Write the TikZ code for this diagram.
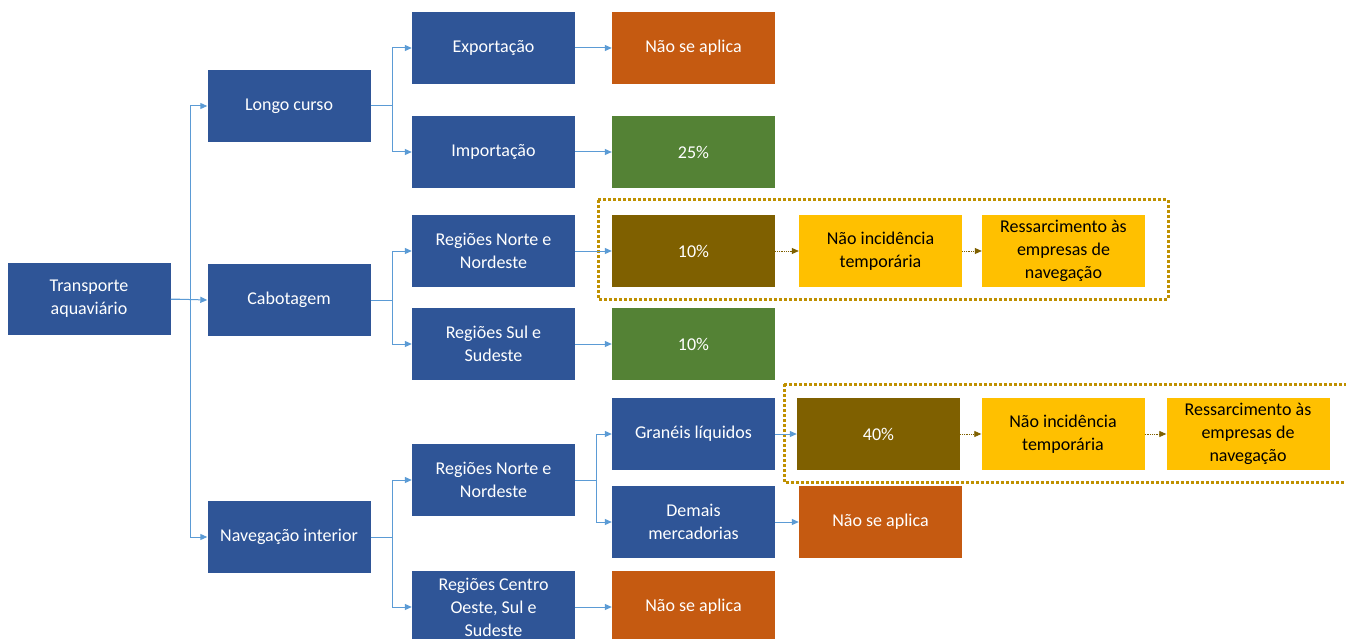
\documentclass[tikz,border=0pt]{standalone}
\usepackage{fontspec}
\setmainfont{Carlito}
\usetikzlibrary{arrows.meta}
\definecolor{azul}{HTML}{2F5597}
\definecolor{laranja}{HTML}{C55A11}
\definecolor{verde}{HTML}{548235}
\definecolor{marrom}{HTML}{7F6000}
\definecolor{amarelo}{HTML}{FFC000}
\definecolor{ouro}{HTML}{BF9000}
\definecolor{linha}{HTML}{5B9BD5}
\tikzset{
  caixa/.style={rectangle,minimum width=163pt,minimum height=72pt,inner sep=0pt,
    align=center,text=white,font=\fontsize{18}{23}\selectfont},
  azulbox/.style={caixa,fill=azul},
  laranjabox/.style={caixa,fill=laranja},
  verdebox/.style={caixa,fill=verde},
  marrombox/.style={caixa,fill=marrom},
  amarelobox/.style={caixa,fill=amarelo,text=black},
  seta/.style={draw=linha,line width=1pt,-{Triangle[length=7pt,width=6pt]}},
  setapont/.style={draw=marrom,line width=0.8pt,densely dotted,-{Triangle[length=7pt,width=6pt]}},
  moldura/.style={draw=ouro,line width=3pt,dotted}
}
\begin{document}
\begin{tikzpicture}[x=1pt,y=-1pt]
        \useasboundingbox[fill=white] (0,0) rectangle (1346,639);
        % nivel 1 e 2
        \node[azulbox] (root) at (89,299) {Transporte\\aquaviário};
        \node[azulbox] (longo) at (289,106) {Longo curso};
        \node[azulbox] (cab) at (289,300) {Cabotagem};
        \node[azulbox] (nav) at (289,537) {Navegação interior};
        % nivel 3
        \node[azulbox] (expo) at (493.5,48) {Exportação};
        \node[azulbox] (impo) at (493.5,152) {Importação};
        \node[azulbox] (rnnA) at (493.5,251) {Regiões Norte e\\Nordeste};
        \node[azulbox] (rss) at (493.5,344) {Regiões Sul e\\Sudeste};
        \node[azulbox] (rnnB) at (493.5,480) {Regiões Norte e\\Nordeste};
        \node[azulbox] (rcos) at (493.5,607) {Regiões Centro\\Oeste, Sul e\\Sudeste};
        % nivel 4
        \node[laranjabox] (nsaA) at (693.5,48) {Não se aplica};
        \node[verdebox] (p25) at (693.5,152) {25\%};
        \node[marrombox] (p10A) at (693.5,251) {10\%};
        \node[verdebox] (p10B) at (693.5,344) {10\%};
        \node[azulbox] (gran) at (693.5,434) {Granéis líquidos};
        \node[azulbox] (demais) at (693.5,522) {Demais\\mercadorias};
        \node[laranjabox] (nsaC) at (693.5,607) {Não se aplica};
        % nivel 5 e 6
        \node[amarelobox] (nitA) at (880.5,251) {Não incidência\\temporária};
        \node[amarelobox] (resA) at (1063.5,251) {Ressarcimento às\\empresas de\\navegação};
        \node[marrombox] (p40) at (878.5,434) {40\%};
        \node[amarelobox] (nitB) at (1063,434) {Não incidência\\temporária};
        \node[amarelobox] (resB) at (1248,434) {Ressarcimento às\\empresas de\\navegação};
        \node[laranjabox] (nsaB) at (880.5,522) {Não se aplica};
        % molduras
        \draw[moldura] (598,200) rectangle (1168,299);
        \draw[moldura] (784,384) -- (1352,384) (784,384) -- (784,482) -- (1352,482);
        % conectores
        \draw[seta] (root.east) -- ++(20,0) |- (longo.west);
        \draw[seta] (root.east) -- (cab.west);
        \draw[seta] (root.east) -- ++(20,0) |- (nav.west);
        \draw[seta] (longo.east) -- ++(22,0) |- (expo.west);
        \draw[seta] (longo.east) -- ++(22,0) |- (impo.west);
        \draw[seta] (cab.east) -- ++(22,0) |- (rnnA.west);
        \draw[seta] (cab.east) -- ++(22,0) |- (rss.west);
        \draw[seta] (nav.east) -- ++(22,0) |- (rnnB.west);
        \draw[seta] (nav.east) -- ++(22,0) |- (rcos.west);
        \draw[seta] (rnnB.east) -- ++(21,0) |- (gran.west);
        \draw[seta] (rnnB.east) -- ++(21,0) |- (demais.west);
        \draw[seta] (expo) -- (nsaA);
        \draw[seta] (impo) -- (p25);
        \draw[seta] (rnnA) -- (p10A);
        \draw[seta] (rss) -- (p10B);
        \draw[seta] (rcos) -- (nsaC);
        \draw[seta] (gran) -- (p40);
        \draw[seta] (demais) -- (nsaB);
        \draw[setapont] (p10A) -- (nitA);
        \draw[setapont] (nitA) -- (resA);
        \draw[setapont] (p40) -- (nitB);
        \draw[setapont] (nitB) -- (resB);
    \end{tikzpicture}
\end{document}
